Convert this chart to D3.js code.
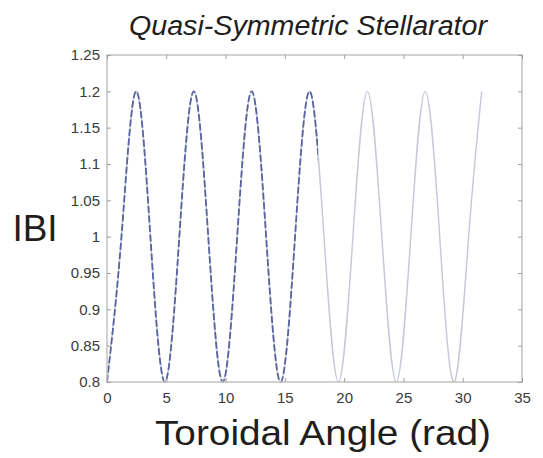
<!DOCTYPE html>
<html>
<head>
<meta charset="utf-8">
<script src="https://cdn.jsdelivr.net/npm/d3@7"></script>
<style>
  body { margin: 0; background: #fff; }
  text { font-family: "Liberation Sans", Arial, sans-serif; }
</style>
</head>
<body>
<div id="hook"></div>
<script>
var angle = [0, 1.22, 2.44, 3.66, 4.88, 6.10, 7.32, 8.54, 9.76, 10.98, 12.20, 13.42, 14.64,
    15.86, 17.08, 18.30, 19.52, 20.74, 21.96, 23.18, 24.40, 25.62, 26.84, 28.06, 29.28, 30.50, 31.60];
var modB = [0.8, 1.0, 1.2, 1.0, 0.8, 1.0, 1.2, 1.0, 0.8, 1.0, 1.2, 1.0, 0.8,
    1.0, 1.2, 1.0, 0.8, 1.0, 1.2, 1.0, 0.8, 1.0, 1.2, 1.0, 0.8, 1.0, 1.2];
var darkUntil = 17.8;   // curve is drawn dark up to this angle
var xTicks = [0, 5, 10, 15, 20, 25, 30, 35];
var yTicks = [0.8, 0.85, 0.9, 0.95, 1, 1.05, 1.1, 1.15, 1.2, 1.25];
var yTickLabels = ["0.8", "0.85", "0.9", "0.95", "1", "1.05", "1.1", "1.15", "1.2", "1.25"];

var W = 543, H = 458;
var mLeft = 107, mTop = 55, mRight = 522, mBottom = 382;

var svg = d3.select("#hook").append("svg")
    .attr("width", W)
    .attr("height", H);

var x = d3.scaleLinear().domain([0, 35]).range([mLeft, mRight]);
var y = d3.scaleLinear().domain([0.8, 1.25]).range([mBottom, mTop]);

var pts = angle.map(function (a, i) { return [a, modB[i]]; });

svg.append("clipPath").attr("id", "darkclip")
    .append("rect")
    .attr("x", mLeft - 2)
    .attr("y", mTop - 2)
    .attr("width", x(darkUntil) - mLeft + 2)
    .attr("height", mBottom - mTop + 4);

var line = d3.line()
    .x(function (d) { return x(d[0]); })
    .y(function (d) { return y(d[1]); })
    .curve(d3.curveNatural);

// faded full curve
svg.append("path")
    .datum(pts)
    .attr("d", line)
    .attr("fill", "none")
    .attr("stroke", "#c4c8da")
    .attr("stroke-width", 1.4);

// dark part
svg.append("path")
    .datum(pts)
    .attr("d", line)
    .attr("clip-path", "url(#darkclip)")
    .attr("fill", "none")
    .attr("stroke", "#56649f")
    .attr("stroke-width", 1.8)
    .attr("stroke-dasharray", "7,2.5");

// box
svg.append("rect")
    .attr("x", mLeft)
    .attr("y", mTop)
    .attr("width", mRight - mLeft)
    .attr("height", mBottom - mTop)
    .attr("fill", "none")
    .attr("stroke", "#c2c2c2")
    .attr("stroke-width", 1.5);

// inward ticks on all sides
var tk = 4;
var gx = svg.append("g").attr("transform", "translate(0," + mBottom + ")")
    .call(d3.axisBottom(x).tickValues(xTicks).tickSize(-tk).tickPadding(10)
        .tickFormat(d3.format("d")));
var gxt = svg.append("g").attr("transform", "translate(0," + mTop + ")")
    .call(d3.axisTop(x).tickValues(xTicks).tickSize(-tk).tickFormat(""));
var gy = svg.append("g").attr("transform", "translate(" + mLeft + ",0)")
    .call(d3.axisLeft(y).tickValues(yTicks).tickSize(-tk).tickPadding(7)
        .tickFormat(function (d, i) { return yTickLabels[i]; }));
var gyr = svg.append("g").attr("transform", "translate(" + mRight + ",0)")
    .call(d3.axisRight(y).tickValues(yTicks).tickSize(-tk).tickFormat(""));

[gx, gxt, gy, gyr].forEach(function (g) {
    g.select(".domain").remove();
    g.selectAll(".tick line").attr("stroke", "#a0a0a0");
    g.selectAll(".tick text")
        .attr("fill", "#3a3a3a")
        .style("font-size", "15px")
        .style("font-family", "'Liberation Sans', Arial, sans-serif");
});

svg.append("text")
    .attr("x", 308)
    .attr("y", 35)
    .attr("text-anchor", "middle")
    .attr("textLength", 358)
    .attr("lengthAdjust", "spacingAndGlyphs")
    .style("font-size", "27px")
    .style("font-style", "italic")
    .attr("fill", "#1e1e1e")
    .text("Quasi-Symmetric Stellarator");

svg.append("text")
    .attr("x", 35)
    .attr("y", 241)
    .attr("text-anchor", "middle")
    .style("font-size", "37px")
    .attr("fill", "#1e1e1e")
    .text("IBI");

svg.append("text")
    .attr("x", 323)
    .attr("y", 445)
    .attr("text-anchor", "middle")
    .attr("textLength", 336)
    .attr("lengthAdjust", "spacingAndGlyphs")
    .style("font-size", "35px")
    .attr("fill", "#1e1e1e")
    .text("Toroidal Angle (rad)");
</script>
</body>
</html>
